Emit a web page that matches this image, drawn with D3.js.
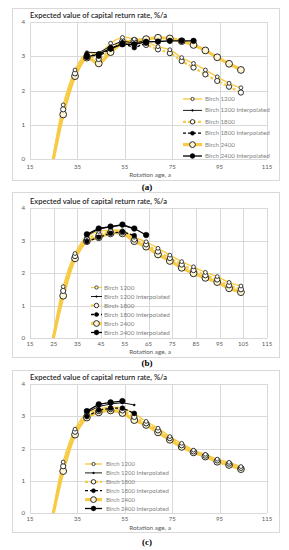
<!DOCTYPE html>
<html><head><meta charset="utf-8">
<script src="https://cdn.jsdelivr.net/npm/d3@7"></script>
<style>body{margin:0;background:#fff}svg{display:block}</style>
</head><body>
<svg id="c" width="289" height="550"></svg>
<script>
// ---- data ----
const ages = [24,29,34,39,44,49,54,59,64,69,74,79,84,89,94,99,104];
const seriesNames = ["Birch 1200","Birch 1200 Interpolated","Birch 1800","Birch 1800 Interpolated","Birch 2400","Birch 2400 Interpolated"];
const panelLabels = ["(a)","(b)","(c)"];
const yTicks = [0,1,2,3,4];
const xTicksA = [15,35,55,75,95,115];
const xTicksB = [15,25,35,45,55,65,75,85,95,105,115];
const xTicksC = [15,35,55,75,95,115];

const a1200 = [-0.3,1.58,2.6,3.1,3.05,3.38,3.55,3.5,3.42,3.28,3.19,2.96,2.79,2.6,2.4,2.21,2.08];
const a1800 = [-0.3,1.45,2.5,3.02,2.92,3.22,3.45,3.42,3.33,3.2,3.09,2.86,2.67,2.47,2.28,2.11,1.94];
const a2400 = [-0.3,1.3,2.42,2.96,2.79,3.12,3.38,3.45,3.5,3.54,3.52,3.44,3.33,3.17,2.97,2.78,2.6];
const aI1200Ages = [39,44,49,54,59,64];
const aI1200 = [3.12,3.1,3.3,3.45,3.38,3.47];
const aI1800Ages = [39,44,49,54,59,64];
const aI1800 = [3.05,3.0,3.22,3.38,3.25,3.38];
const aI2400Ages = [39,44,49,54,59,64,69,74,79,84];
const aI2400 = [2.98,3.06,3.23,3.35,3.35,3.42,3.43,3.45,3.45,3.45];

const b1200 = [-0.3,1.58,2.6,3.12,3.28,3.32,3.3,3.1,2.96,2.76,2.55,2.35,2.19,2.02,1.89,1.71,1.6];
const b1800 = [-0.3,1.45,2.52,3.05,3.18,3.27,3.25,3.03,2.88,2.66,2.46,2.26,2.09,1.93,1.8,1.62,1.5];
const b2400 = [-0.3,1.3,2.45,2.98,3.1,3.22,3.22,2.98,2.81,2.57,2.37,2.16,1.99,1.85,1.72,1.53,1.41];
const bI1200Ages = [39,44,49,54,59];
const bI1200 = [3.15,3.35,3.42,3.47,3.35];
const bI1800Ages = [39,44,49,54,59];
const bI1800 = [2.97,3.1,3.22,3.27,3.15];
const bI2400Ages = [39,44,49,54,59,64];
const bI2400 = [3.19,3.37,3.43,3.49,3.37,3.17];

const c1200 = [-0.3,1.58,2.6,3.1,3.22,3.28,3.25,3.08,2.84,2.63,2.37,2.16,1.95,1.82,1.67,1.57,1.44];
const c1800 = [-0.3,1.45,2.52,3.03,3.16,3.22,3.18,2.98,2.78,2.56,2.32,2.1,1.91,1.78,1.63,1.53,1.4];
const c2400 = [-0.3,1.3,2.43,2.96,3.12,3.18,3.1,2.88,2.73,2.5,2.27,2.05,1.88,1.75,1.59,1.49,1.36];
const cI1200Ages = [39,44,49,54,59];
const cI1200 = [3.12,3.3,3.38,3.42,3.35];
const cI1800Ages = [39,44,49,54,59];
const cI1800 = [2.99,3.19,3.25,3.25,3.09];
const cI2400Ages = [39,44,49,54];
const cI2400 = [3.16,3.37,3.43,3.47];

// ---- styles ----
const YEL = "#F7CB45", MK = "#2b2b2b";
const styles = [
  {line:YEL, w:1.4, dash:null, r:1.9, fill:"#fff", stroke:MK, sw:0.9},
  {line:"#000", w:0.9, dash:null, r:1.0, fill:"#000", stroke:"#000", sw:0.5},
  {line:YEL, w:2.2, dash:"3,2", r:2.6, fill:"#fff", stroke:MK, sw:1},
  {line:"#000", w:1.3, dash:"3,2", r:2.4, fill:"#000", stroke:"#000", sw:0.5},
  {line:YEL, w:3.2, dash:null, r:3.4, fill:"#FFF6D5", stroke:MK, sw:1},
  {line:"#000", w:1.3, dash:null, r:2.8, fill:"#000", stroke:"#000", sw:0.5}
];

const panels = [
  {box:[12.5,8.5,267,172], top:22, bottom:159, xt:xTicksA, title:18, xtl:168.5, xl:177, lab:190,
   series:[[ages,a1200],[aI1200Ages,aI1200],[ages,a1800],[aI1800Ages,aI1800],[ages,a2400],[aI2400Ages,aI2400]],
   leg:{x0:183,x1:202,tx:205,y0:99,dy:11.4,fs:6.2}},
  {box:[12.5,192.5,267,165], top:208, bottom:338, xt:xTicksB, title:204, xtl:346, xl:354, lab:366,
   series:[[ages,b1200],[bI1200Ages,bI1200],[ages,b1800],[bI1800Ages,bI1800],[ages,b2400],[bI2400Ages,bI2400]],
   leg:{x0:91,x1:102,tx:104,y0:287.5,dy:9,fs:6.3}},
  {box:[12.5,370.5,267,162], top:384, bottom:513, xt:xTicksC, title:380, xtl:521, xl:529.5, lab:545,
   series:[[ages,c1200],[cI1200Ages,cI1200],[ages,c1800],[cI1800Ages,cI1800],[ages,c2400],[cI2400Ages,cI2400]],
   leg:{x0:85,x1:102,tx:106,y0:464,dy:8.9,fs:6}}
];

const svg = d3.select("#c");
const FONT = "Lato, 'Open Sans', sans-serif";

panels.forEach((p,pi)=>{
  const g = svg.append("g");
  g.append("rect").attr("x",p.box[0]).attr("y",p.box[1]).attr("width",p.box[2]).attr("height",p.box[3])
    .attr("fill","#fff").attr("stroke","#d9d9d9").attr("stroke-width",1);
  const x = d3.scaleLinear().domain([15,115]).range([30,267]);
  const y = d3.scaleLinear().domain([0,4]).range([p.bottom,p.top]);

  // grid
  g.selectAll(".hg").data(yTicks).join("line").attr("x1",30).attr("x2",267)
    .attr("y1",d=>Math.round(y(d))+0.5).attr("y2",d=>Math.round(y(d))+0.5).attr("stroke","#d9d9d9").attr("stroke-width",1);
  g.selectAll(".vg").data(p.xt).join("line").attr("y1",p.top).attr("y2",p.bottom)
    .attr("x1",d=>Math.round(x(d))+0.5).attr("x2",d=>Math.round(x(d))+0.5).attr("stroke","#d9d9d9").attr("stroke-width",1);

  // tick labels
  g.selectAll(".yl").data(yTicks).join("text").attr("x",25).attr("y",d=>y(d)+2.2)
    .attr("text-anchor","end").attr("font-size",6.2).attr("fill","#595959").attr("font-family",FONT).text(d=>d);
  g.selectAll(".xl").data(p.xt).join("text").attr("x",d=>x(d)).attr("y",p.xtl)
    .attr("text-anchor","middle").attr("font-size",6).attr("fill","#595959").attr("font-family",FONT).text(d=>d);
  g.append("text").attr("x",150).attr("y",p.xl).attr("text-anchor","middle").attr("font-size",6.4)
    .attr("fill","#595959").attr("font-family",FONT).text("Rotation age, a");
  g.append("text").attr("x",30).attr("y",p.title).attr("font-size",7.6).attr("font-weight",600)
    .attr("fill","#262626").attr("font-family",FONT).attr("textLength",137).attr("lengthAdjust","spacingAndGlyphs")
    .text("Expected value of capital return rate,  %/a");
  svg.append("text").attr("x",147).attr("y",p.lab).attr("text-anchor","middle").attr("font-size",9)
    .attr("font-weight","bold").attr("fill","#000").attr("font-family","'Liberation Serif', serif").text(panelLabels[pi]);

  // clip
  const cid = "clip"+pi;
  svg.append("clipPath").attr("id",cid).append("rect").attr("x",30).attr("y",p.top-6).attr("width",245).attr("height",p.bottom-p.top+6);
  const pg = g.append("g").attr("clip-path",`url(#${cid})`);

  const order = [4,2,0,5,3,1];
  // lines
  order.forEach(si=>{
    const st = styles[si]; const [xs,vs] = p.series[si];
    const pts = xs.map((a,i)=>[a,vs[i]]);
    const yellow = si%2===0;
    const ln = d3.line().x(d=>x(d[0])).y(d=>y(d[1])).curve(yellow?d3.curveCatmullRom.alpha(0.5):d3.curveLinear);
    pg.append("path").attr("d",ln(pts)).attr("fill","none").attr("stroke",st.line).attr("stroke-width",st.w)
      .attr("stroke-dasharray",st.dash);
  });
  // markers
  order.forEach(si=>{
    const st = styles[si]; const [xs,vs] = p.series[si];
    const pts = xs.map((a,i)=>[a,vs[i]]);
    pg.selectAll(null).data(pts).join("circle").attr("cx",d=>x(d[0])).attr("cy",d=>y(d[1])).attr("r",st.r)
      .attr("fill",st.fill).attr("stroke",st.stroke).attr("stroke-width",st.sw);
  });

  // legend
  const L = p.leg;
  seriesNames.forEach((nm,i)=>{
    const st = styles[i]; const yy = L.y0 + i*L.dy;
    g.append("line").attr("x1",L.x0).attr("x2",L.x1).attr("y1",yy).attr("y2",yy).attr("stroke",st.line)
      .attr("stroke-width",st.w).attr("stroke-dasharray",st.dash);
    g.append("circle").attr("cx",(L.x0+L.x1)/2).attr("cy",yy).attr("r",st.r*0.85).attr("fill",st.fill)
      .attr("stroke",st.stroke).attr("stroke-width",st.sw);
    g.append("text").attr("x",L.tx).attr("y",yy+2).attr("font-size",L.fs).attr("fill","#7f7f7f")
      .attr("font-family",FONT).text(nm);
  });
});
</script>
</body></html>
